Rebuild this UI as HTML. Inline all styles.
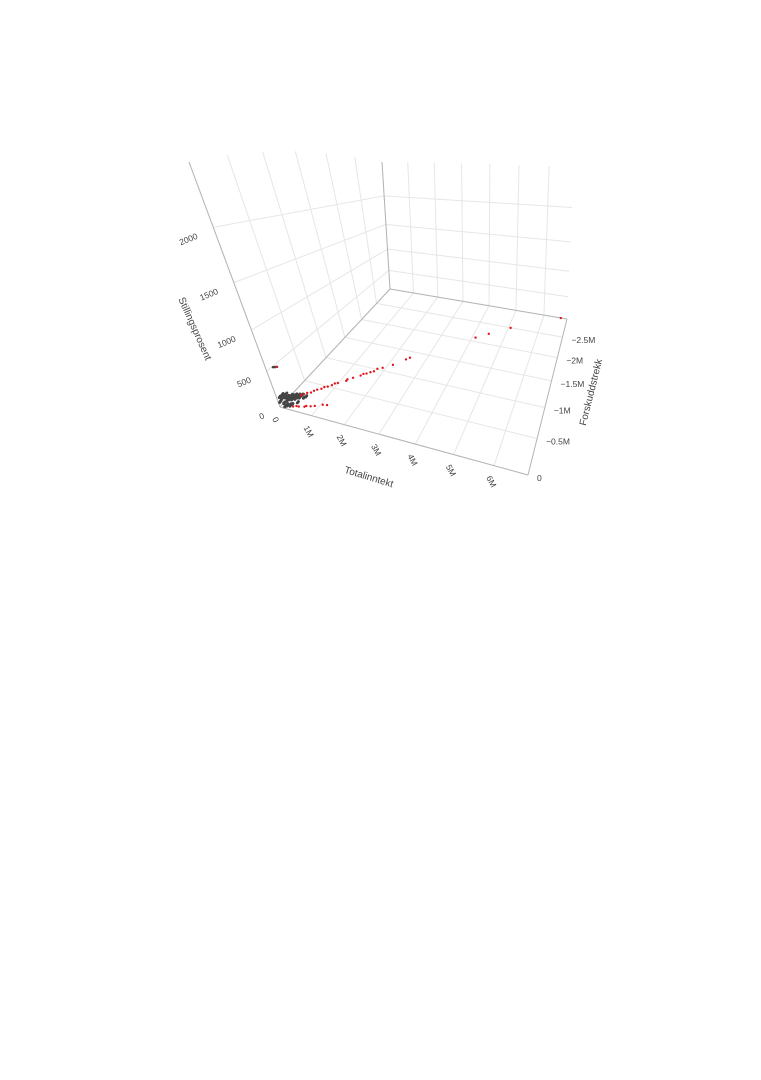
<!DOCTYPE html>
<html><head><meta charset="utf-8"><style>
html,body{margin:0;padding:0;background:#fff;}
svg text{font-family:"Liberation Sans",sans-serif;fill:#444;}
</style></head><body>
<svg id="chart" width="761" height="1075" viewBox="0 0 761 1075" xmlns="http://www.w3.org/2000/svg">
<g id="grid"></g>
<g id="axes"></g>
<g id="pts"></g>
<g id="labels"></g>
<text x="368" y="480" font-size="10" text-anchor="middle" transform="rotate(17 368 480)">Totalinntekt</text>
<text x="594" y="393" font-size="10" text-anchor="middle" transform="rotate(-76 594 393)">Forskuddstrekk</text>
<text x="192" y="330" font-size="10" text-anchor="middle" transform="rotate(66 192 330)">Stillingsprosent</text>
</svg>
<script>
// axis ranges
const xMax = 6.8, yMin = -3.0, zMax = 2500;
const xTicks = [0,1,2,3,4,5,6];
const xTickLabels = ["0","1M","2M","3M","4M","5M","6M"];
const yTicks = [0,-0.5,-1,-1.5,-2,-2.5];
const yTickLabels = ["0","−0.5M","−1M","−1.5M","−2M","−2.5M"];
const zTicks = [0,500,1000,1500,2000];
const zTickLabels = ["0","500","1000","1500","2000"];
// data: Totalinntekt (M), Forskuddstrekk (M), Stillingsprosent
const grayX = [0.02,0.05,0.08,0.1,0.12,0.15,0.18,0.2,0.22,0.25,0.28,0.3,0.33,0.36,0.4,0.05,0.1,0.15,0.2,0.25,0.3,0.35,0.12,0.18,0.24,0.3,0.08,0.14,0.2,0.26,0.32,0.38,0.42,0.45,0.16,0.22,0.28,0.1,0.06,0.5];
const grayY = [-0.01,-0.02,-0.03,-0.04,-0.05,-0.06,-0.07,-0.08,-0.09,-0.1,-0.11,-0.12,-0.13,-0.14,-0.16,-0.05,-0.08,-0.1,-0.12,-0.15,-0.17,-0.2,-0.02,-0.03,-0.05,-0.06,-0.06,-0.09,-0.14,-0.18,-0.2,-0.22,-0.1,-0.2,-0.01,-0.02,-0.04,-0.0,-0.04,-0.22];
const grayZ = [60,80,100,110,120,100,90,110,100,90,80,100,70,60,50,20,30,40,30,20,40,30,0,10,0,20,140,130,80,60,50,40,30,20,60,40,30,150,120,30];
const redX = [6.6,5.1,4.5,4.15,2.58,2.5,2.22,1.99,1.88,1.82,1.74,1.66,1.6,1.54,1.38,1.28,1.26,1.08,1.03,0.97,0.89,0.83,0.77,0.7,0.64,0.58,0.51,0.45,0.9,0.8,0.7,0.65,0.5,0.45,0.35,1.1,1.2,0.4];
const redY = [-2.95,-2.45,-2.2,-2.05,-1.3,-1.25,-1.1,-1.0,-0.95,-0.9,-0.87,-0.83,-0.8,-0.77,-0.7,-0.64,-0.62,-0.55,-0.52,-0.49,-0.45,-0.42,-0.39,-0.35,-0.32,-0.29,-0.26,-0.23,-0.14,-0.12,-0.1,-0.09,-0.07,-0.06,-0.05,-0.18,-0.2,-0.2];
const redZ = [40,40,40,40,60,60,50,50,60,50,50,50,60,50,50,60,50,50,60,50,50,60,50,60,60,50,60,60,10,10,20,10,10,20,10,20,10,60];
const clusterX = [0.22,0.24,0.26,0.28,0.3,0.32];
const clusterY = [-0.02,-0.02,-0.03,-0.03,-0.04,-0.04];
const clusterZ = [560,560,560,560,560,560];
const clusterRed = [0,0,0,0,1,1];

// floor homography from 4 corners; vertical offsets interpolated from corner vectors
const floorRef = [[0,0,280,407],[1,0,528,475],[0,1,390,289],[1,1,567,319]];
const VA=[-91,-245], VB=[-76,-270], VD=[-8,-127], VC=[7,-152];
const dz=-0.3125;
function gauss(M){const n=M.length;
  for(let i=0;i<n;i++){let p=i;for(let r=i+1;r<n;r++)if(Math.abs(M[r][i])>Math.abs(M[p][i]))p=r;[M[i],M[p]]=[M[p],M[i]];
    for(let r=0;r<n;r++){if(r===i)continue;const f=M[r][i]/M[i][i];for(let c=i;c<=n;c++)M[r][c]-=f*M[i][c];}}
  return M.map((r,i)=>r[n]/r[i]);}
const rows=[];
floorRef.forEach(([X,Y,u,v])=>{rows.push([X,Y,1,0,0,0,-u*X,-u*Y,u]);rows.push([0,0,0,X,Y,1,-v*X,-v*Y,v]);});
const H=gauss(rows);
function proj(x,y,z){const X=x/xMax,Y=y/yMin,Z=z/zMax;const w=H[6]*X+H[7]*Y+1;
  const fx=(H[0]*X+H[1]*Y+H[2])/w, fy=(H[3]*X+H[4]*Y+H[5])/w;
  const f=Z*(1+dz)/(1+dz*Z);
  const vx=VA[0]*(1-X)*(1-Y)+VB[0]*X*(1-Y)+VD[0]*(1-X)*Y+VC[0]*X*Y;
  const vy=VA[1]*(1-X)*(1-Y)+VB[1]*X*(1-Y)+VD[1]*(1-X)*Y+VC[1]*X*Y;
  return [fx+f*vx, fy+f*vy];}
const NS="http://www.w3.org/2000/svg";
function line(g,a,b,col,w,name){const l=document.createElementNS(NS,'line');
  l.setAttribute('x1',a[0]);l.setAttribute('y1',a[1]);l.setAttribute('x2',b[0]);l.setAttribute('y2',b[1]);
  l.setAttribute('stroke',col);l.setAttribute('stroke-width',w);
  
  
  g.appendChild(l);}
const G=document.getElementById('grid'),A=document.getElementById('axes'),PT=document.getElementById('pts'),L=document.getElementById('labels');
const gc='#e6e6e6';
xTicks.forEach(t=>line(G,proj(t,0,0),proj(t,yMin,0),gc,1,'floor-grid-x'));
yTicks.forEach(t=>line(G,proj(0,t,0),proj(xMax,t,0),gc,1,'floor-grid-y'));
xTicks.forEach(t=>line(G,proj(t,yMin,0),proj(t,yMin,zMax),gc,1,'back-grid-x'));
zTicks.forEach(t=>line(G,proj(0,yMin,t),proj(xMax,yMin,t),gc,1,'back-grid-z'));
yTicks.forEach(t=>line(G,proj(0,t,0),proj(0,t,zMax),gc,1,'side-grid-y'));
zTicks.forEach(t=>line(G,proj(0,0,t),proj(0,yMin,t),gc,1,'side-grid-z'));
const ac='#b4b4b4';
line(A,proj(0,0,0),proj(xMax,0,0),ac,1,'x-axis-line');
line(A,proj(xMax,0,0),proj(xMax,yMin,0),ac,1,'y-axis-line');
line(A,proj(0,0,0),proj(0,0,zMax),ac,1,'z-axis-line');
line(A,proj(0,yMin,0),proj(xMax,yMin,0),ac,1,'back-floor-edge');
line(A,proj(0,yMin,0),proj(0,yMin,zMax),ac,1,'back-vertical-edge');
line(A,proj(0,0,0),proj(0,yMin,0),ac,1,'side-floor-edge');
function dot(x,y,z,col,r,name){const p=proj(x,y,z);const c=document.createElementNS(NS,'circle');
  c.setAttribute('cx',p[0]);c.setAttribute('cy',p[1]);c.setAttribute('r',r);c.setAttribute('fill',col);
  
  
  PT.appendChild(c);}
grayX.forEach((v,i)=>{dot(v,grayY[i],grayZ[i],'#444',1.5,'gray-point');
  dot(v+0.03,grayY[i]-0.01,grayZ[i]+15,'#444',1.5,'gray-point');});
redX.forEach((v,i)=>dot(v,redY[i],redZ[i],'#e0161c',1.2,'red-point'));
clusterX.forEach((v,i)=>dot(v,clusterY[i],clusterZ[i],clusterRed[i]?'#c0282c':'#444',1.2,'cluster-point'));
function txt(s,p,dx,dy,rot,anchor,name){const t=document.createElementNS(NS,'text');
  const x=p[0]+dx,y=p[1]+dy;t.setAttribute('x',x);t.setAttribute('y',y);t.setAttribute('font-size',8.5);
  t.setAttribute('text-anchor',anchor);if(rot)t.setAttribute('transform',`rotate(${rot} ${x} ${y})`);t.textContent=s;
  
  
  L.appendChild(t);}
xTicks.forEach((t,i)=>txt(xTickLabels[i],proj(t,0,0),-8,12,62,'start','x-tick-label'));
yTicks.forEach((t,i)=>txt(yTickLabels[i],proj(xMax,t,0),9,6,0,'start','y-tick-label'));
zTicks.forEach((t,i)=>txt(zTickLabels[i],proj(0,0,t),-15,11,-22,'end','z-tick-label'));
</script>
</body></html>
